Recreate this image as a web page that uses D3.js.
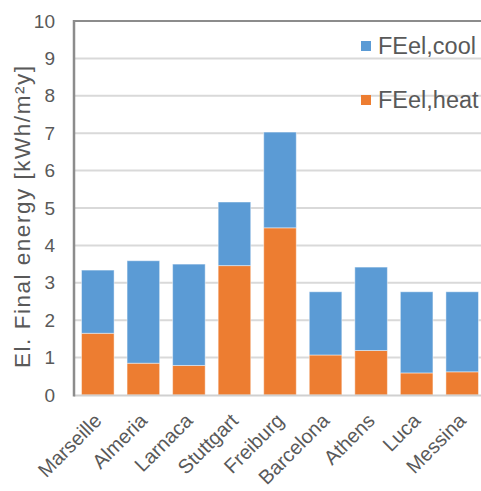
<!DOCTYPE html>
<html>
<head>
<meta charset="utf-8">
<script src="https://cdn.jsdelivr.net/npm/d3@7"></script>
<style>
  html, body { margin: 0; padding: 0; background: #fff; }
  svg { display: block; font-family: "Liberation Sans", Arial, sans-serif; }
</style>
</head>
<body>
<svg id="chart" width="481" height="491"></svg>
<script>
const categories = ["Marseille", "Almeria", "Larnaca", "Stuttgart", "Freiburg", "Barcelona", "Athens", "Luca", "Messina"];
const heatValues = [1.65, 0.85, 0.79, 3.46, 4.47, 1.07, 1.19, 0.59, 0.62];
const coolValues = [1.69, 2.74, 2.71, 1.70, 2.56, 1.69, 2.23, 2.17, 2.14];
const yTicks = [0, 1, 2, 3, 4, 5, 6, 7, 8, 9, 10];
const seriesNames = ["FEel,heat", "FEel,cool"];
const seriesColors = ["#ED7D31", "#5B9BD5"];
const yTitle = "El. Final energy  [kWh/m²y]";

(function () {
const svg = d3.select("#chart");
const pLeft = 74, pRight = 486, pTop = 21, pBottom = 395;

const x = d3.scaleBand().domain(categories).range([pLeft, pRight]).paddingInner(0.285).paddingOuter(0.165);
const y = d3.scaleLinear().domain([0, 10]).range([pBottom, pTop]);

// gridlines
svg.append("g").selectAll("line").data(yTicks.filter(t => t > 0 && t < 10)).join("line")
  .attr("x1", pLeft).attr("x2", 481)
  .attr("y1", d => y(d)).attr("y2", d => y(d))
  .attr("stroke", "#D9D9D9").attr("stroke-width", 2);

// stacked data
const rows = categories.map((c, i) => ({ cat: c, heat: heatValues[i], cool: coolValues[i] }));
const stack = d3.stack().keys(["heat", "cool"])(rows);

svg.append("g").selectAll("g").data(stack).join("g")
  .attr("fill", (d, i) => seriesColors[i])
  .selectAll("rect").data(d => d).join("rect")
  .attr("x", d => x(d.data.cat))
  .attr("width", x.bandwidth())
  .attr("y", d => y(d[1]))
  .attr("height", d => y(d[0]) - y(d[1]))
  .attr("stroke", "#ffffff").attr("stroke-opacity", 0.45).attr("stroke-width", 1);

// bottom axis line
svg.append("line").attr("x1", pLeft).attr("x2", 481).attr("y1", pBottom + 0.5).attr("y2", pBottom + 0.5)
  .attr("stroke", "#D0D0D0").attr("stroke-width", 2);
// top border line
svg.append("line").attr("x1", pLeft - 1).attr("x2", 481).attr("y1", y(10)).attr("y2", y(10))
  .attr("stroke", "#8C8C8C").attr("stroke-width", 2);
// left axis line
svg.append("line").attr("x1", pLeft).attr("x2", pLeft).attr("y1", y(10) - 1).attr("y2", pBottom + 1.5)
  .attr("stroke", "#8C8C8C").attr("stroke-width", 2.5);

// y axis labels
const yAxis = d3.axisLeft(y).tickValues(yTicks).tickSize(0).tickPadding(19).tickFormat(d3.format("d"));
const gy = svg.append("g").attr("transform", `translate(${pLeft},0)`).call(yAxis);
gy.select(".domain").remove();
gy.selectAll("text").attr("font-size", 19).attr("fill", "#595959")
  .attr("font-family", "'Liberation Sans', Arial, sans-serif");

// x axis labels
const xAxis = d3.axisBottom(x).tickSize(0).tickPadding(0);
const gx = svg.append("g").attr("transform", `translate(0,${pBottom})`).call(xAxis);
gx.select(".domain").remove();
gx.selectAll("text")
  .attr("font-size", 20).attr("fill", "#595959")
  .attr("font-family", "'Liberation Sans', Arial, sans-serif")
  .attr("text-anchor", "end")
  .attr("dy", null).attr("y", 0)
  .attr("transform", "translate(5,27) rotate(-45)");

// y title
svg.append("text")
  .attr("transform", `translate(30,${217}) rotate(-90)`)
  .attr("text-anchor", "middle")
  .attr("font-size", 22.5).attr("fill", "#595959")
  .attr("textLength", 302).attr("lengthAdjust", "spacing")
  .text(yTitle);

// legend
const legendItems = [
  { name: seriesNames[1], color: seriesColors[1], yy: 46 },
  { name: seriesNames[0], color: seriesColors[0], yy: 100 }
];
const lg = svg.append("g").selectAll("g").data(legendItems).join("g");
lg.append("rect").attr("x", 361).attr("y", d => d.yy - 5).attr("width", 10).attr("height", 10).attr("fill", d => d.color);
lg.append("text").attr("x", 378).attr("y", d => d.yy + 8).attr("font-size", 23.5).attr("fill", "#595959").text(d => d.name);
})();
</script>
</body>
</html>
